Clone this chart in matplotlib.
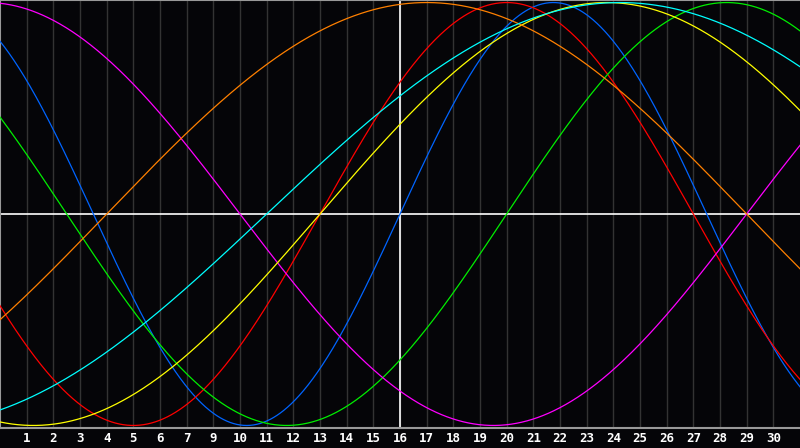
import numpy as np
import matplotlib
matplotlib.use("Agg")
import matplotlib.pyplot as plt

# cycle lengths (days) and day where each curve crosses zero going up
cycles = ["physical", "emotional", "intellectual", "intuitive", "aesthetic", "awareness", "spiritual"]
periods = [23, 28, 33, 38, 43, 48, 53]
zero_up = [15, 12, 19, 28, 12, 4, 10]
colores = ["#0064ff", "#ff0000", "#00ee00", "#ff00ff", "#ffff00", "#ff8000", "#00ffff"]

# x labels as shown (day 8 is missing on the original)
etiquetas = ["1", "2", "3", "4", "5", "6", "7", "9", "10", "11", "12", "13", "14", "15",
             "16", "17", "18", "19", "20", "21", "22", "23", "24", "25", "26", "27",
             "28", "29", "30"]
hoy = 15
ndias = 30

fondo = "#050508"
fig = plt.figure(figsize=(8, 4.48), dpi=100, facecolor=fondo)
ax = fig.add_axes([0, 20 / 448, 1, 428 / 448], facecolor=fondo)

dias = np.linspace(0, ndias, 1200)
for k in range(1, ndias):
    ax.axvline(k, color="#333333", lw=1, zorder=1)
ax.axvline(hoy, color="white", lw=1.2, zorder=2)
ax.axhline(0, color="white", lw=1.2, zorder=2)

for p, z, c in zip(periods, zero_up, colores):
    ax.plot(dias, np.sin(2 * np.pi * (dias - z) / p), color=c, lw=0.9, zorder=3)

ax.set_xlim(0, ndias)
ax.set_ylim(-1.012, 1.012)
ax.set_yticks([])
ax.set_xticks(range(1, ndias))
ax.set_xticklabels(etiquetas, color="white", fontsize=9, fontweight="bold",
                   family="DejaVu Sans Mono")
ax.tick_params(axis="x", length=0, pad=3)
for s in ["left", "top", "bottom"]:
    ax.spines[s].set_color("#999999")
    ax.spines[s].set_linewidth(1.5)
ax.spines["right"].set_visible(False)

fig.savefig("out.png", dpi=100, facecolor=fondo)
